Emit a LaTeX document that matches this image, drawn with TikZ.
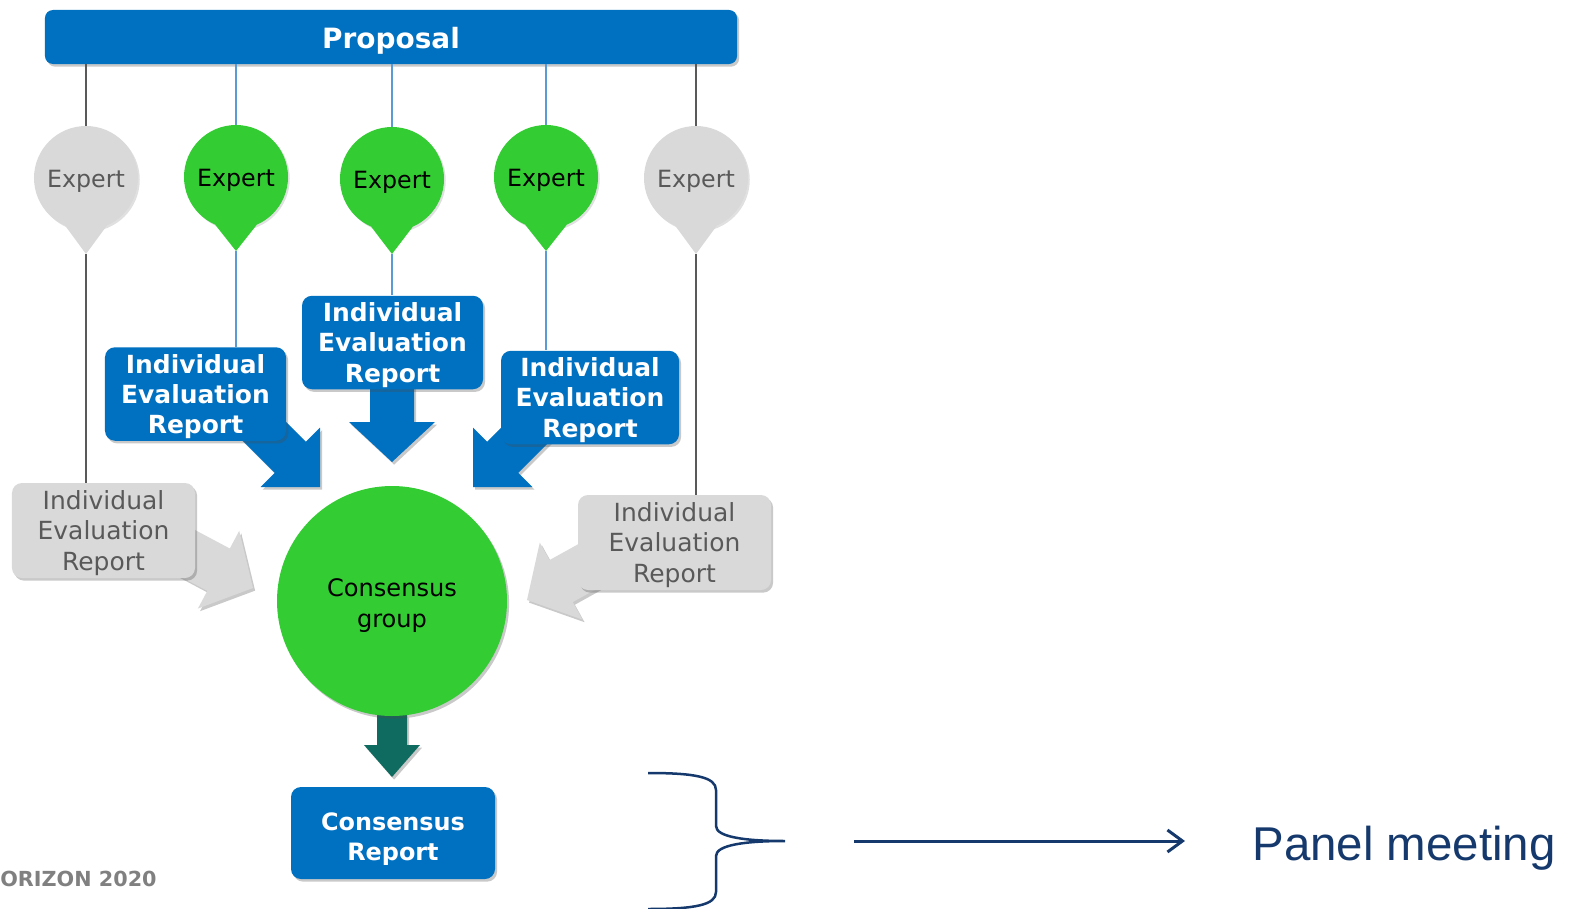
\documentclass[tikz,border=0pt]{standalone}
\usepackage{fontspec}
\setmainfont{DejaVu Sans}
\newfontfamily\arialfont{Liberation Sans}
\usetikzlibrary{positioning,shadows,arrows.meta,calc}

\definecolor{ecblue}{HTML}{0070C0}
\definecolor{exgreen}{HTML}{33CC33}
\definecolor{exgray}{HTML}{D9D9D9}
\definecolor{txtgray}{HTML}{595959}
\definecolor{lineblue}{HTML}{5B9BD5}
\definecolor{cgteal}{HTML}{0F6B5F}
\definecolor{pmnavy}{HTML}{15396C}

% colour, tip, angle, length, shaft half width, head half width, head length
\newcommand{\blockarrow}[7]{%
  \begin{scope}[shift={#2},rotate=#3]
    \fill[#1,softshadow] (0,0) -- (-#7,#6) -- (-#7,#5) -- (-#4,#5)
      -- (-#4,-#5) -- (-#7,-#5) -- (-#7,-#6) -- cycle;
  \end{scope}}

\tikzset{
  softshadow/.style={drop shadow={shadow xshift=1.2pt,shadow yshift=-1.5pt,opacity=.3,fill=black!70}},
  lowered/.style={execute at begin node={\rule{0pt}{#1}}},
  bar/.style={rectangle,rounded corners=1.6mm,fill=ecblue,text=white,
    minimum width=138.4mm,minimum height=10.8mm,inner sep=0pt,softshadow,lowered=16.7pt,
    font=\bfseries\fontsize{15.9}{19}\selectfont},
  expert/.style={circle,minimum size=20.8mm,inner sep=0pt,lowered=13.3pt,
    drop shadow={shadow xshift=1pt,shadow yshift=-1pt,opacity=.2,fill=black!60},
    font=\fontsize{13.5}{16}\selectfont},
  greenex/.style={expert,fill=exgreen,text=black},
  grayex/.style={expert,fill=exgray,text=txtgray},
  ierblue/.style={rectangle,rounded corners=2mm,fill=ecblue,text=white,align=center,
    minimum width=36.2mm,minimum height=18.7mm,inner sep=0pt,softshadow,text depth=0pt,
    font=\bfseries\fontsize{14.2}{17.1}\selectfont},
  iergray/.style={rectangle,rounded corners=2mm,fill=exgray,text=txtgray,align=center,
    minimum height=19mm,inner sep=0pt,softshadow,text depth=0pt,
    font=\fontsize{14.2}{17.6}\selectfont},
  grayline/.style={draw=txtgray,line width=0.25mm},
  blueline/.style={draw=lineblue,line width=0.25mm},
  brace/.style={draw=pmnavy,line width=0.5mm},
}

\begin{document}
\begin{tikzpicture}[x=0.2mm,y=-0.2mm]
\useasboundingbox (0,0) rectangle (1573,909);

% proposal and experts
\node[bar] (prop) at (391,37) {Proposal};
\node[grayex] (e1) at (86,178) {Expert};
\node[greenex] (e2) at (236,177) {Expert};
\node[greenex] (e3) at (392,179) {Expert};
\node[greenex] (e4) at (546,177) {Expert};
\node[grayex] (e5) at (696,178) {Expert};
\coordinate (t1) at (86,254);
\coordinate (t2) at (236,251);
\coordinate (t3) at (392,254);
\coordinate (t4) at (546,251);
\coordinate (t5) at (696,254);
\fill[exgray] (e1.-113) -- (t1) -- (e1.-67) -- cycle;
\fill[exgreen] (e2.-113) -- (t2) -- (e2.-67) -- cycle;
\fill[exgreen] (e3.-113) -- (t3) -- (e3.-67) -- cycle;
\fill[exgreen] (e4.-113) -- (t4) -- (e4.-67) -- cycle;
\fill[exgray] (e5.-113) -- (t5) -- (e5.-67) -- cycle;

\draw[grayline] (e1.north) -- (e1.north |- prop.south);
\draw[blueline] (e2.north) -- (e2.north |- prop.south);
\draw[blueline] (e3.north) -- (e3.north |- prop.south);
\draw[blueline] (e4.north) -- (e4.north |- prop.south);
\draw[grayline] (e5.north) -- (e5.north |- prop.south);

% block arrows to the consensus group
\blockarrow{ecblue}{(320,487)}{-45}{110}{22}{42}{42}
\blockarrow{ecblue}{(392,462)}{-90}{90}{22}{43}{40}
\blockarrow{ecblue}{(473,487)}{-135}{110}{22}{42}{42}
\blockarrow{exgray}{(253,588)}{-28}{85}{24}{44}{39}
\blockarrow{exgray}{(527,600)}{209}{85}{24}{44}{39}
\blockarrow{cgteal}{(392,777)}{-90}{62}{15}{28}{32}

% evaluation reports
\node[ierblue] (b1) at (195.5,394) {Individual\\Evaluation\\Report};
\node[ierblue] (b2) at (392.5,342.5) {Individual\\Evaluation\\Report};
\node[ierblue,minimum width=35.6mm] (b3) at (590,397.5) {Individual\\Evaluation\\Report};
\node[iergray,minimum width=36.6mm] (g1) at (103.5,530.5) {Individual\\Evaluation\\Report};
\node[iergray,minimum width=38.6mm] (g2) at (674.5,542.5) {Individual\\Evaluation\\Report};

\draw[grayline] (t1) -- (t1 |- g1.north);
\draw[blueline] (t2) -- (t2 |- b1.north);
\draw[blueline] (t3) -- (t3 |- b2.north);
\draw[blueline] (t4) -- (t4 |- b3.north);
\draw[grayline] (t5) -- (t5 |- g2.north);

% consensus
\node[circle,fill=exgreen,minimum size=46mm,inner sep=0pt,align=center,softshadow,
  text height=30.3pt,text depth=0pt,font=\fontsize{13.7}{17.6}\selectfont] (cg) at (392,601) {Consensus\\group};
\node[ierblue,minimum width=40.8mm,minimum height=18.4mm,text height=31.5pt,
  font=\bfseries\fontsize{13.6}{17.1}\selectfont] (cr) at (393,833) {Consensus\\Report};

\node[anchor=base west,inner sep=0pt,text=black!50,
  font=\bfseries\fontsize{11.8}{14}\selectfont] (h2020) at (0,886) {ORIZON 2020};

% panel meeting
\draw[brace] (648,773) .. controls (695,773) and (716,777) .. (716,790) -- (716,826)
  .. controls (716,837) and (745,841) .. (785,841)
  .. controls (745,841) and (716,845) .. (716,856) -- (716,892)
  .. controls (716,905) and (695,909) .. (648,909);
\coordinate (arrs) at (854,841);
\coordinate (arre) at (1185,841);
\draw[brace,line width=0.6mm,-{Straight Barb[length=3mm,width=4.4mm]}] (arrs) -- (arre);
\node[anchor=base west,inner sep=0pt,text=pmnavy,
  font=\arialfont\fontsize{27}{30}\selectfont] (panel) at (1252,860) {Panel meeting};
\end{tikzpicture}
\end{document}
